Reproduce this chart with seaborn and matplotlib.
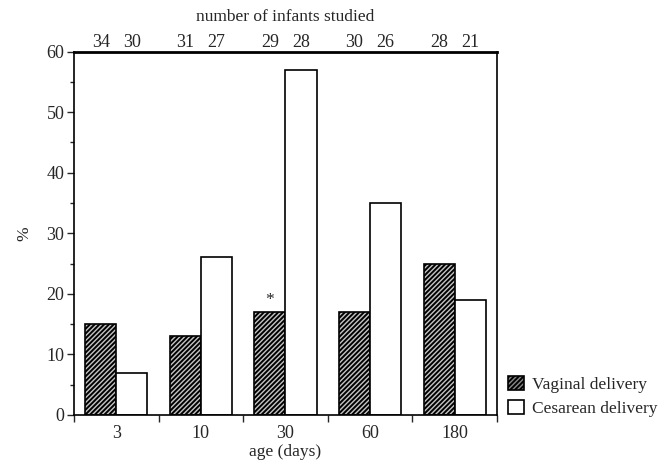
import matplotlib
matplotlib.use("Agg")
import matplotlib.pyplot as plt
import seaborn as sns
import pandas as pd
import numpy as np
from matplotlib.patches import Patch

ages = ["3", "10", "30", "60", "180"]
vaginal = [15, 13, 17, 17, 25]
cesarean = [7, 26, 57, 35, 19]
n_vaginal = [34, 31, 29, 30, 28]
n_cesarean = [30, 27, 28, 26, 21]
groups = ["Vaginal delivery", "Cesarean delivery"]

df = pd.DataFrame({
    "age": ages * 2,
    "pct": vaginal + cesarean,
    "group": [groups[0]] * 5 + [groups[1]] * 5,
})

sns.set_style("ticks")
plt.rcParams["font.family"] = ["Liberation Serif", "DejaVu Serif"]
plt.rcParams["hatch.linewidth"] = 1.4
FS = 12.5
FSN = 13

fig = plt.figure(figsize=(6.65, 4.63), dpi=100)
ax = fig.add_axes([0.1113, 0.1037, 0.636, 0.785])

width = 0.735
sns.barplot(data=df, x="age", y="pct", hue="group", order=ages, hue_order=groups,
            palette={groups[0]: "#c4c4c4", groups[1]: "white"}, width=width, gap=0,
            edgecolor="black", linewidth=1.2, ax=ax, legend=False, errorbar=None)

for bar in ax.containers[0]:
    bar.set_hatch("///////")

ax.set_xlim(-0.5, len(ages) - 0.5)
ax.set_ylim(0, 60)
ax.set_yticks(np.arange(0, 61, 10))
ax.set_yticks(np.arange(5, 60, 10), minor=True)
ax.tick_params(axis="y", which="major", length=5, width=1, labelsize=FSN, direction="out", pad=2)
ax.tick_params(axis="y", which="minor", length=3, width=1, direction="out")
ax.set_xticks(range(len(ages)))
ax.set_xticklabels(ages)
ax.set_xticks(np.arange(-0.5, len(ages), 1.0), minor=True)
ax.tick_params(axis="x", which="major", length=0, labelsize=FSN, pad=7)
ax.tick_params(axis="x", which="minor", length=5, width=1, direction="out")

for side in ["left", "right", "bottom"]:
    ax.spines[side].set_visible(True)
    ax.spines[side].set_linewidth(1.2)
    ax.spines[side].set_color("black")
ax.spines["top"].set_visible(True)
ax.spines["top"].set_linewidth(2.0)
ax.spines["top"].set_color("black")

ax.set_xlabel("age (days)", fontsize=FS, labelpad=2)
ax.set_ylabel("%", fontsize=FS, labelpad=10)

# counts on top axis
ax2 = ax.twiny()
ax2.set_xlim(ax.get_xlim())
pos = []
labs = []
for bv, bc, nv, nc in zip(ax.containers[0], ax.containers[1], n_vaginal, n_cesarean):
    pos += [bv.get_x() + bv.get_width() / 2, bc.get_x() + bc.get_width() / 2]
    labs += [str(nv), str(nc)]
ax2.set_xticks(pos)
ax2.set_xticklabels(labs)
ax2.tick_params(axis="x", length=0, labelsize=FSN, pad=0.5)
for s in ax2.spines.values():
    s.set_visible(False)
ax2.set_xlabel("number of infants studied", fontsize=FS, labelpad=9)

# asterisk above 30-day vaginal bar
b = ax.containers[0][2]
ax.annotate("*", xy=(b.get_x() + b.get_width() / 2, b.get_height()), xytext=(0, 3),
            textcoords="offset points", ha="center", va="bottom", fontsize=FS)

handles = [Patch(facecolor="#888888", edgecolor="black", hatch="///////", linewidth=1.2),
           Patch(facecolor="white", edgecolor="black", linewidth=1.2)]
ax.legend(handles, groups, loc="lower left", bbox_to_anchor=(1.01, -0.025), frameon=False,
          fontsize=FS, handlelength=0.9, handleheight=0.9, handletextpad=0.5,
          borderaxespad=0, labelspacing=0.4)

fig.savefig("out.png", dpi=100)
